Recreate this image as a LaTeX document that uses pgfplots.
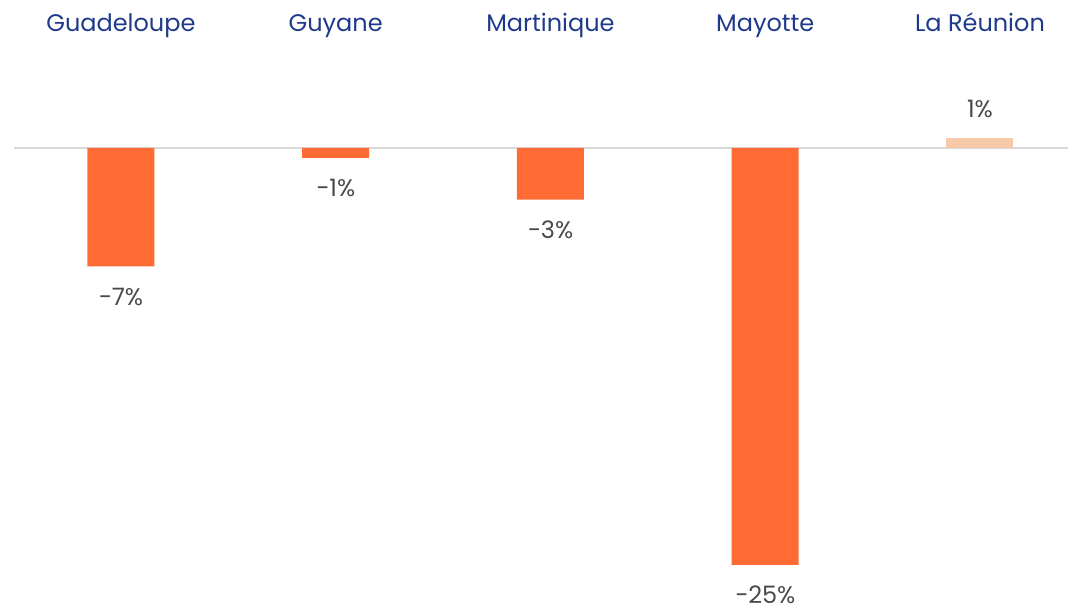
\documentclass[border=0pt]{standalone}
\usepackage{pgfplots}
\pgfplotsset{compat=1.18}
\usepackage{fontspec}
\setmainfont{Poppins}
\definecolor{barorange}{HTML}{FF6B35}
\definecolor{barlight}{HTML}{F8C9A8}
\definecolor{catblue}{HTML}{1F3A8A}
\definecolor{valgray}{HTML}{4A4A4A}
\definecolor{basegray}{HTML}{D9D9D9}
\begin{document}
\begin{tikzpicture}
\begin{axis}[
  scale only axis,
  width=801pt, height=455.25pt,
  xmin=-0.563, xmax=4.41,
  ymin=-27.52, ymax=8.87,
  axis lines=none,
  clip=false,
  ybar, bar width=50.25pt, bar shift=0pt,
  nodes near coords,
  point meta=explicit symbolic,
  every node near coord/.append style={font=\fontsize{18pt}{21pt}\selectfont, text=valgray, inner sep=0pt, text depth=0pt},
]
\draw[basegray, line width=1.2pt] (axis cs:-0.5,0) -- (axis cs:4.41,0);
\addplot[fill=barorange, draw=none,
  nodes near coords style={anchor=base, yshift=-29pt}]
  coordinates {(0,-7.1) [−7\%] (1,-0.6) [−1\%] (2,-3.1) [−3\%] (3,-25) [−25\%]};
\addplot[fill=barlight, draw=none,
  nodes near coords style={anchor=base, yshift=15pt}]
  coordinates {(4,0.6) [1\%]};
\foreach \i/\n in {0/Guadeloupe,1/Guyane,2/Martinique,3/Mayotte,4/La Réunion}{
  \edef\tmp{\noexpand\node[anchor=base, text=catblue, font=\noexpand\fontsize{18pt}{21pt}\noexpand\selectfont] at (axis cs:\i,7.01) {\n};}
  \tmp
}
\end{axis}
\pgfresetboundingbox
\path[use as bounding box] (current axis.south west) rectangle (current axis.north east);
\end{tikzpicture}
\end{document}
